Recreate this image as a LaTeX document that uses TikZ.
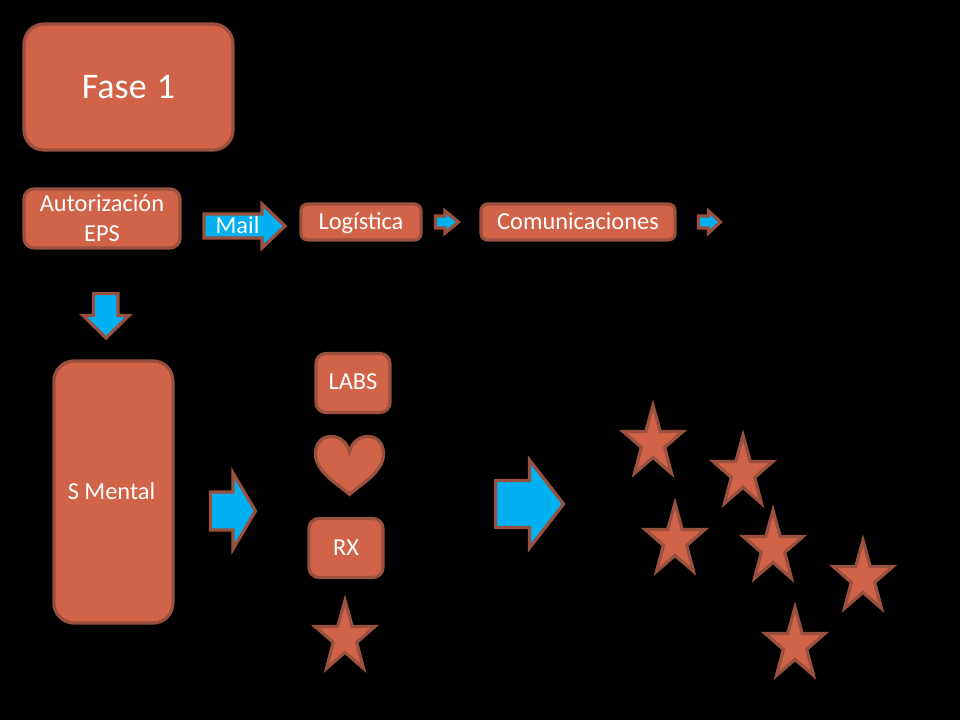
\documentclass[tikz,border=0pt]{standalone}
\usepackage{fontspec}
\setmainfont{Carlito}
\definecolor{fillc}{HTML}{D16349}
\definecolor{edgec}{HTML}{99503E}
\definecolor{bluec}{HTML}{00B0F0}
\tikzset{
  pxbox/.style 2 args={draw=edgec,fill=fillc,line width=2.4pt,text=white,align=center,inner sep=0pt,
    minimum width=#1*0.75pt,minimum height=#2*0.75pt},
  rsmall/.style={rounded corners=7.5pt},
  rbig/.style={rounded corners=15pt},
  lab/.style={font=\fontsize{18.3}{22.5}\selectfont},
  oneline/.style={text height=10.8pt,text depth=0pt},
  blockarrow/.style={draw=edgec,fill=bluec,line width=2.4pt,miter limit=10},
  starshape/.style={draw=edgec,fill=fillc,line width=2.4pt,miter limit=10},
}
\newcommand{\rarrow}[6]{% x0 xhead xtip yc halfshaft halfhead
  \draw[blockarrow] (#1,#4-#5) -- (#2,#4-#5) -- (#2,#4-#6) -- (#3,#4) -- (#2,#4+#6) -- (#2,#4+#5) -- (#1,#4+#5) -- cycle;}
\newcommand{\mystar}[2]{% apex x, apex y (drawn outline apex)
  \draw[starshape,shift={(#1,#2+41.5)},x=0.75pt,y=-0.75pt]
    (0,-37.6) -- (7.2,-11.6) -- (30,-11.6) -- (11.7,4.4) -- (18.5,30.4) -- (0,14.4)
    -- (-18.5,30.4) -- (-11.7,4.4) -- (-30,-11.6) -- (-7.2,-11.6) -- cycle;}
\begin{document}
\begin{tikzpicture}[x=0.75pt,y=-0.75pt]
\useasboundingbox (0,0) rectangle (960,720);
\fill[black] (0,0) rectangle (960,720);
% boxes
\node[pxbox={209}{126},rbig,font=\fontsize{27}{33}\selectfont] (fase) at (128.5,87) {Fase\kern1.5pt{} 1};
\node[pxbox={156}{59},rsmall,lab] (aut) at (102,218.5) {Autorización\\EPS};
\node[pxbox={120}{36},rounded corners=5pt,lab,oneline] (log) at (361,222) {Logística};
\node[pxbox={194}{36},rounded corners=5pt,lab,oneline,text height=11.5pt] (com) at (578,222) {Comunicaciones};
\node[pxbox={119}{262},rbig,lab,oneline,text height=11.5pt] (smental) at (113.5,492) {S Mental\kern3pt};
\node[pxbox={74}{59},rsmall,lab,oneline,text height=10pt] (labs) at (353,383) {LABS};
\node[pxbox={74}{59},rsmall,lab,oneline] (rx) at (346,548) {RX};
% block arrows
\rarrow{204}{262}{285}{226}{12}{22}
\node[text=white,lab,oneline,text height=11.5pt,inner sep=0pt] (mail) at (237.5,226) {Mail};
\draw[blockarrow] (93.5,293.5) -- (118,293.5) -- (118,315.5) -- (129,315.5) -- (106,338) -- (83,315.5) -- (93.5,315.5) -- cycle;
\rarrow{435.5}{445}{458.5}{222}{6}{11}
\rarrow{698.5}{708.5}{720.5}{222}{6}{11}
\rarrow{210.5}{233}{255.5}{511}{19}{38}
\rarrow{495.5}{529.5}{563.5}{504}{23.5}{44}
% heart
\draw[starshape] (349.5,494.5) .. controls (338,484) and (315.5,472) .. (315.5,454)
  .. controls (315.5,443) and (322,436.5) .. (331,436.5)
  .. controls (340,436.5) and (347,442) .. (349.5,452)
  .. controls (352,442) and (359,436.5) .. (368,436.5)
  .. controls (377,436.5) and (383.5,443) .. (383.5,454)
  .. controls (383.5,472) and (361,484) .. (349.5,494.5) -- cycle;
% stars
\mystar{345}{596.5}
\mystar{653}{401.5}
\mystar{743}{431.5}
\mystar{675}{499.5}
\mystar{773}{506.5}
\mystar{863}{536.5}
\mystar{795}{603.5}
\end{tikzpicture}
\end{document}
